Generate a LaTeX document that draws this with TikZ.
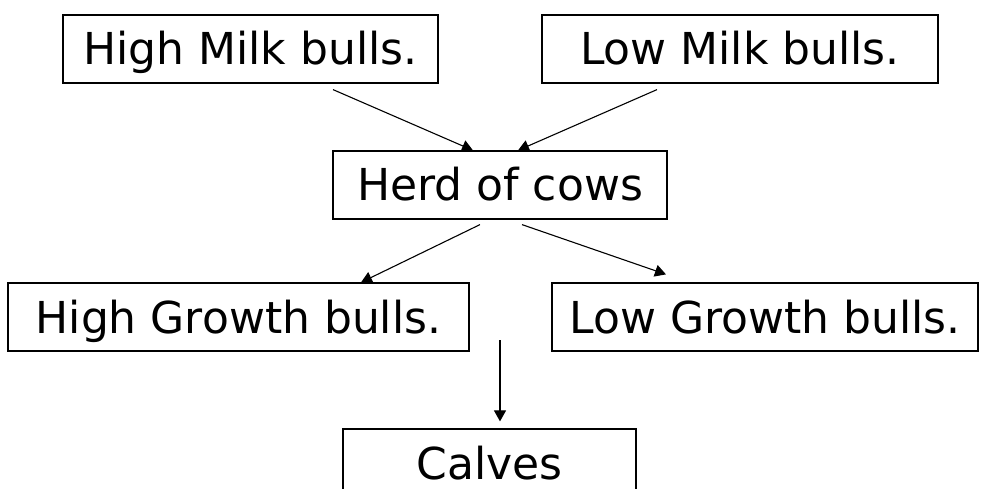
\documentclass[tikz,border=0pt]{standalone}
\usepackage{fontspec}
\setmainfont{DejaVu Sans}
\usetikzlibrary{arrows.meta,calc}

\tikzset{
  box/.style={draw,line width=1.2pt,inner sep=0pt,minimum height=68pt,
    text height=33pt,text depth=1pt,font=\fontsize{44}{50}\selectfont},
  arr/.style={-{Triangle[length=11pt,width=12pt]},line width=1.1pt}
}

\begin{document}
\begin{tikzpicture}[x=1pt,y=-1pt]
  \useasboundingbox (0,0) rectangle (988,489);
  \clip (0,0) rectangle (988,489);
  % 父本与母畜
  \node[box,minimum width=375pt] (himilk) at (250.5,49) {High Milk bulls.};
  \node[box,minimum width=396pt] (lomilk) at (740,49) {Low Milk bulls.};
  \node[box,minimum width=334pt] (herd) at (500,185) {Herd of cows};
  \node[box,minimum width=461pt] (higrowth) at (238.5,317) {High Growth bulls.};
  \node[box,minimum width=426pt] (logrowth) at (765,317) {Low Growth bulls.};
  % 后代（下边被裁掉）
  \node[box,minimum width=293pt] (calves) at (489.5,463) {Calves};
  \coordinate (mate) at (500,340);
  % 箭头
  \draw[arr] ([xshift=82.5pt,yshift=-6pt]himilk.south) -- ([xshift=-27pt]herd.north);
  \draw[arr] ([xshift=-83pt,yshift=-6pt]lomilk.south) -- ([xshift=18pt]herd.north);
  \draw[arr] ([xshift=-20pt,yshift=-5pt]herd.south) -- ([xshift=122.5pt]higrowth.north);
  \draw[arr] ([xshift=22pt,yshift=-5pt]herd.south) -- ([xshift=-99pt,yshift=8pt]logrowth.north);
  \draw[arr] (mate) -- ([xshift=10.5pt,yshift=7pt]calves.north);
\end{tikzpicture}
\end{document}
